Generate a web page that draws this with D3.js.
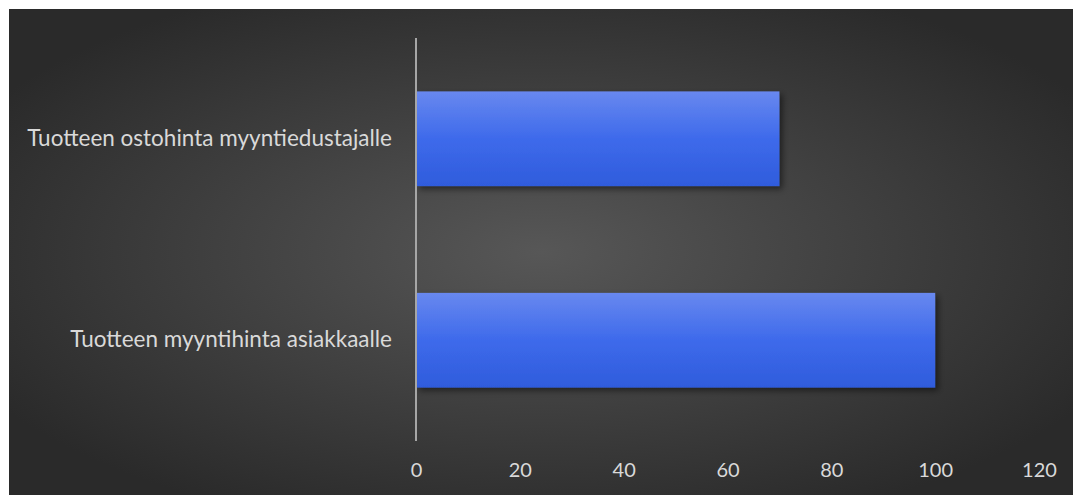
<!DOCTYPE html>
<html>
<head>
<meta charset="utf-8">
<script src="https://cdn.jsdelivr.net/npm/d3@7"></script>
<style>
  body { margin: 0; background: #fff; }
  svg { display: block; }
</style>
</head>
<body>
<svg id="chart" width="1073" height="495"></svg>
<script>
// chart data
let categories = ['Tuotteen ostohinta myyntiedustajalle', 'Tuotteen myyntihinta asiakkaalle']
let values = [70, 100]
let ticks = [0, 20, 40, 60, 80, 100, 120]

window.addEventListener('load', () => {
    let svg = d3.select('svg#chart')
    let defs = svg.append('defs')

    // dark radial background
    let bg = defs.append('radialGradient').attr('id', 'bg')
        .attr('cx', '50%').attr('cy', '50%').attr('r', '60%')
    bg.append('stop').attr('offset', '0%').attr('stop-color', '#575757')
    bg.append('stop').attr('offset', '100%').attr('stop-color', '#2a2a2a')

    let barFill = defs.append('linearGradient').attr('id', 'bar')
        .attr('x1', 0).attr('y1', 0).attr('x2', 0).attr('y2', 1)
    barFill.append('stop').attr('offset', '0%').attr('stop-color', '#6888ef')
    barFill.append('stop').attr('offset', '50%').attr('stop-color', '#3e6aeb')
    barFill.append('stop').attr('offset', '100%').attr('stop-color', '#2f5cdc')

    let shadow = defs.append('filter').attr('id', 'shadow')
        .attr('x', '-5%').attr('y', '-5%').attr('width', '115%').attr('height', '120%')
    shadow.append('feDropShadow').attr('dx', 3).attr('dy', 3).attr('stdDeviation', 3)
        .attr('flood-color', '#000').attr('flood-opacity', 0.5)

    svg.append('rect')
        .attr('x', 9).attr('y', 9).attr('width', 1064).attr('height', 486)
        .attr('fill', 'url(#bg)')

    let x = d3.scaleLinear().domain([0, 120]).range([416, 1039])
    let y = d3.scaleBand().domain(categories).range([38, 441]).paddingInner(0.53).paddingOuter(0.265)

    // bars
    svg.append('g').selectAll('rect')
        .data(categories)
        .join('rect')
        .attr('x', x(0))
        .attr('y', d => y(d))
        .attr('width', (d, i) => x(values[i]) - x(0))
        .attr('height', y.bandwidth())
        .attr('fill', 'url(#bar)')
        .attr('filter', 'url(#shadow)')

    // vertical axis line
    svg.append('line')
        .attr('x1', x(0)).attr('x2', x(0))
        .attr('y1', 38).attr('y2', 441)
        .attr('stroke', '#a6a6a6').attr('stroke-width', 2)

    // category labels
    let yAxis = svg.append('g')
        .attr('transform', 'translate(' + (x(0) - 8) + ',0)')
        .call(d3.axisLeft(y).tickSize(0).tickPadding(16))
    yAxis.select('.domain').remove()
    yAxis.selectAll('text')
        .attr('fill', '#d9d9d9')
        .attr('font-family', 'Lato, sans-serif')
        .attr('font-size', 22.5)

    // value labels
    let xAxis = svg.append('g')
        .attr('transform', 'translate(0,471)')
        .call(d3.axisBottom(x).tickValues(ticks).tickSize(0).tickPadding(0))
    xAxis.select('.domain').remove()
    xAxis.selectAll('text')
        .attr('fill', '#d9d9d9')
        .attr('font-family', 'Lato, sans-serif')
        .attr('font-size', 20)
        .attr('dy', '0.32em')
})
</script>
</body>
</html>
